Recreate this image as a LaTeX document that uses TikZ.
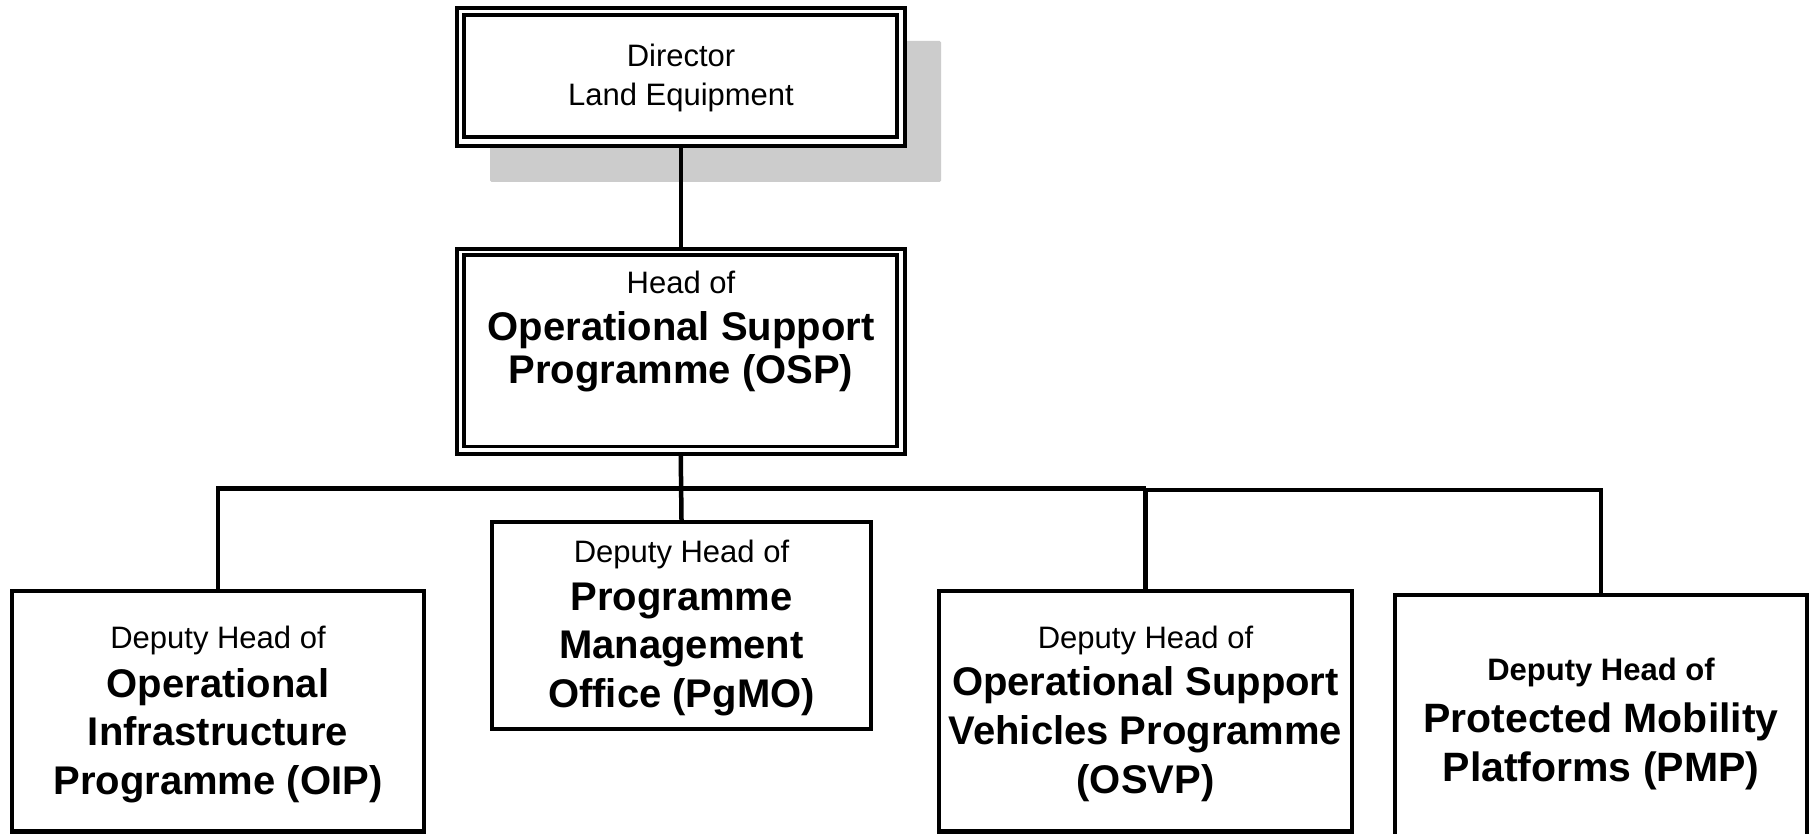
\documentclass[tikz,border=0pt]{standalone}
\usepackage{fontspec}
\setmainfont{Liberation Sans}
\usetikzlibrary{fit}
\tikzset{
  conn/.style={line width=4.5pt, line join=miter},
  outerbox/.style={draw, fill=white, line width=4pt, rectangle, inner sep=0pt},
  innerbox/.style={draw, line width=3.6pt, rectangle, inner sep=0pt},
  unitbox/.style={draw, fill=white, line width=4.3pt, rectangle, inner sep=0pt},
  shadowbox/.style={fill=black!20, draw=none, rounded corners=1.5pt, inner sep=0pt},
  reg/.style={anchor=base, inner sep=0pt, font=\fontsize{31}{37}\selectfont},
  bld/.style={anchor=base, inner sep=0pt, font=\fontsize{40}{48}\selectfont\bfseries},
  bldsm/.style={anchor=base, inner sep=0pt, font=\fontsize{31}{37}\selectfont\bfseries},
  bldlg/.style={anchor=base, inner sep=0pt, font=\fontsize{41}{49}\selectfont\bfseries},
}
\begin{document}
\begin{tikzpicture}[x=1pt, y=-1pt]
\useasboundingbox (0,0) rectangle (1814,834);
\clip (0,0) rectangle (1814,834);
\fill[white] (0,0) rectangle (1814,834);

% shadow of director box
\node[shadowbox, fit={(490,41) (941,182)}] (shadow) {};

% director box
\node[outerbox, fit={(457,8) (904.5,146)}] (dirO) {};
\node[innerbox, fit={(464,15) (897,137)}] (dirI) {};
\node[reg] (dirT1) at (681,67) {Director};
\node[reg] (dirT2) at (681,106) {Land Equipment};

% head of OSP
\node[outerbox, fit={(457,249) (904.5,454)}] (ospO) {};
\node[innerbox, fit={(464,255) (897,446.5)}] (ospI) {};
\node[reg] (ospT1) at (681,293) {Head of};
\node[bld] (ospT2) at (681,340) {Operational Support};
\node[bld] (ospT3) at (681,383) {Programme (OSP)};

% deputy boxes
\node[unitbox, fit={(12,591) (424,831.5)}] (oip) {};
\node[unitbox, fit={(492,522) (871,729)}] (pgmo) {};
\node[unitbox, fit={(939,591) (1352,831.5)}] (osvp) {};
\node[unitbox, fit={(1395,595) (1807,870)}] (pmp) {};

\node[reg] (oipT1) at (218,648) {Deputy Head of};
\node[bld] (oipT2) at (218,697) {Operational};
\node[bld] (oipT3) at (218,745) {Infrastructure};
\node[bld] (oipT4) at (218,794) {Programme (OIP)};

\node[reg] (pgmoT1) at (681.5,562) {Deputy Head of};
\node[bld] (pgmoT2) at (681.5,610) {Programme};
\node[bld] (pgmoT3) at (681.5,658) {Management};
\node[bld] (pgmoT4) at (681.5,707) {Office (PgMO)};

\node[reg] (osvpT1) at (1145.5,648) {Deputy Head of};
\node[bld] (osvpT2) at (1145.5,695) {Operational Support};
\node[bld] (osvpT3) at (1145.5,744) {Vehicles Programme};
\node[bld] (osvpT4) at (1145.5,793) {(OSVP)};

\node[bldsm] (pmpT1) at (1601,680) {Deputy Head of};
\node[bldlg] (pmpT2) at (1601,732) {Protected Mobility};
\node[bldlg] (pmpT3) at (1601,781) {Platforms (PMP)};

% connectors
\coordinate (busA) at (681,488.5);
\coordinate (busB) at (1145,490);
\draw[conn] (dirO.south) -- (ospO.north);
\draw[conn] (ospO.south) -- (pgmo.north);
\draw[conn] (oip.north) |- (osvp.north |- busA);
\draw[conn] (osvp.north) -- (osvp.north |- busA);
\draw[conn] (osvp.north |- busB) -| (pmp.north);
\end{tikzpicture}
\end{document}
